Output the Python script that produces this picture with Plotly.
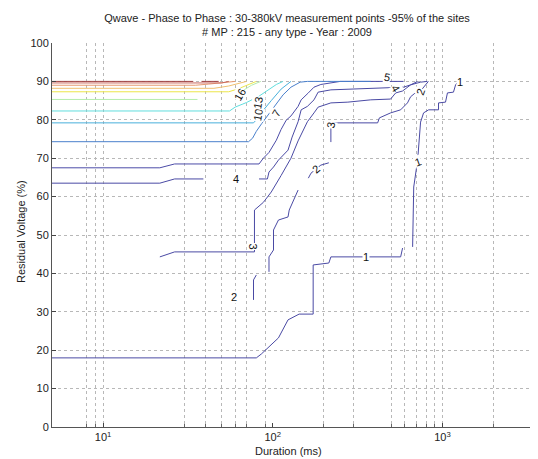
import plotly.graph_objects as go
import math

# ---------------- data (duration in ms, residual voltage in %) ----------------
levels = [1, 2, 3, 4, 5, 7, 10, 13, 16, 19, 22, 25, 28, 31]
level_colors = ["#4a4aa4", "#4a4aa4", "#4a4aa4", "#4a4aa4", "#4c4ca8", "#4a80cc",
                "#48b0dc", "#60dede", "#b4ecaa", "#ece64a", "#f0c070", "#e89a70",
                "#c86a60", "#a04040"]

lvl1_x = [5, 80, 85.6, 94.2, 108, 123, 143, 173, 173, 214, 220, 567, 582, None,
          667, 677, 714, 733, 743, 774, 829, 948, 948, 1042, 1070, 1161, 1195, 1242]
lvl1_y = [18, 18, 19, 20.8, 23.2, 27.9, 29.4, 29.4, 42.2, 42.7, 44.3, 44.3, 46.6, None,
          46.9, 62.5, 69.5, 74.7, 79.4, 81.8, 82.6, 82.6, 84.4, 84.6, 87.0, 87.2, 89.1, 90.0]

lvl2_x = [77, 77, 80, None, 95, 95, 101, 101, 108, 123, 125, 134, 141, None,
          162, 168, 180, 192, 214, None, 220, 220, 230, 415, 425, 495, 567, 622, 649,
          700, 743, 790, 826]
lvl2_y = [33.1, 38.3, 39.6, None, 40.4, 44.3, 46.1, 51.3, 53.9, 54.7, 56.5, 59.6, 61.7, None,
          64.8, 66.1, 67.2, 68.2, 68.8, None, 74.2, 78.6, 79.2, 79.2, 80.5, 81.8, 82.6, 84.4, 86.0,
          87.2, 87.5, 89.0, 90.0]

lvl3_x = [21.6, 26.4, 78, 78, 88, 98, 112, 128, 141, 160, 175, 185, 220, 277, 378, 495,
          530, 582, 649, 714]
lvl3_y = [44.3, 45.6, 45.6, 56.5, 58.5, 61.2, 65.5, 70, 74.5, 79.5, 81.8, 83.3, 84.4, 84.6,
          85.2, 85.4, 87.0, 87.5, 89.1, 90]

lvl4_x = [5, 21.6, 26.4, 39, None, 83, 93, 95, 101, 108, 123, 130, 141, 147, 160, 175, 185,
          220, 393, 590, 649, 743, 815]
lvl4_y = [63.5, 63.5, 64.6, 64.6, None, 64.6, 64.6, 66.4, 67.7, 69.5, 72.1, 75.5, 79.5, 82.6,
          83.5, 85.2, 87.2, 87.8, 88.3, 88.5, 89.1, 89.8, 90]

lvl5_x = [5, 21.6, 26.4, 83, 88, 95, 105, 112, 120, 128, 141, 147, 162, 175, 192, 214, 250, 590]
lvl5_y = [67.5, 67.5, 68.5, 68.5, 70, 71.5, 74.7, 77.5, 79.9, 81, 83.5, 85.2, 87, 88.5, 89.2,
          89.6, 90, 90]

lvl7_x = [5, 72, 76, 80, 86, 95, 105, 115, 128, 145, 160, 378]
lvl7_y = [74.3, 74.3, 75.2, 77, 79, 81.5, 84, 86.5, 88.5, 89.8, 90, 90]

lvl10_x = [5, 77, 82, 88, 98, 112, 128]
lvl10_y = [79.2, 79.2, 80.5, 82.5, 85, 88, 90]

lvl13_x = [5, 55.6, 60, 70, 82, 95, 105, 115]
lvl13_y = [82.3, 82.3, 83.3, 84.5, 86, 88, 89.2, 90]

lvl16_x = [5, 36, None, 58, 66, 75, 85]
lvl16_y = [85.3, 85.3, None, 86.5, 87.5, 89, 90]

lvl19_x = [5, 55, 62, 70, 80]
lvl19_y = [87.3, 87.3, 88, 89, 90]

lvl22_x = [5, 45, 55, 63, 70]
lvl22_y = [88.2, 88.2, 88.8, 89.5, 90]

lvl25_x = [5, 35, 42, 52, 60]
lvl25_y = [89.0, 89.0, 89.3, 89.7, 90]

lvl28_x = [5, 50, 55]
lvl28_y = [89.6, 89.6, 90]

lvl31_x = [5, 34, None, 38, 48]
lvl31_y = [90, 90, None, 90, 90]

# contour labels: text, duration, voltage, rotation
label_text = ["1", "1", "1", "2", "2", "2", "3", "3", "4", "4", "5", "7", "10", "13", "16"]
label_x = [353, 714, 1275, 59.4, 180, 743, 76.9, 220, 61.1, 530, 470, 105, 81.8, 81.8, 63.7]
label_y = [44.3, 69.0, 89.8, 33.9, 67.2, 87.2, 46.9, 78.6, 64.6, 88.3, 91.1, 81.8, 81.3, 84.4, 86.5]
label_rot = [0, -20, 0, 0, -40, -70, 90, -80, 0, 60, 10, -60, -80, -80, -60]

x_tick_vals = [10, 100, 1000]
x_tick_text = ["10<sup>1</sup>", "10<sup>2</sup>", "10<sup>3</sup>"]
x_grid_vals = [8, 9, 10, 30, 40, 50, 60, 70, 90, 200, 300, 500, 600, 700, 800, 900, 1000, 2000]
x_min, x_max = 5, 3656

title_lines = ["Qwave - Phase to Phase : 30-380kV measurement points -95% of the sites",
               "# MP : 215 - any type - Year : 2009"]

# ---------------- figure ----------------
series = [(lvl1_x, lvl1_y), (lvl2_x, lvl2_y), (lvl3_x, lvl3_y), (lvl4_x, lvl4_y),
          (lvl5_x, lvl5_y), (lvl7_x, lvl7_y), (lvl10_x, lvl10_y), (lvl13_x, lvl13_y),
          (lvl16_x, lvl16_y), (lvl19_x, lvl19_y), (lvl22_x, lvl22_y), (lvl25_x, lvl25_y),
          (lvl28_x, lvl28_y), (lvl31_x, lvl31_y)]

FONT = "Liberation Sans, Arial, Helvetica, sans-serif"
fig = go.Figure()
for lev, col, (xs, ys) in zip(levels, level_colors, series):
    fig.add_trace(go.Scatter(x=xs, y=ys, mode="lines", name=str(lev),
                             line=dict(color=col, width=1), connectgaps=False,
                             hoverinfo="skip", showlegend=False))

for t, lx, ly, r in zip(label_text, label_x, label_y, label_rot):
    fig.add_annotation(x=math.log10(lx), y=ly, xref="x", yref="y", text=t,
                       showarrow=False, textangle=r, bgcolor="white", borderpad=0,
                       font=dict(family=FONT, size=11, color="#111"))

# page body has an 8px default margin -> figure is 8px smaller than the window
W, H = 530, 451
L, R, T, B = 44, 0, 35, 32
pw, ph = W - L - R, H - T - B

fig.update_layout(
    width=W, height=H, margin=dict(l=L, r=R, t=T, b=B),
    paper_bgcolor="white", plot_bgcolor="white",
    font=dict(family=FONT, size=11, color="#222"),
    title=dict(text="<br>".join(title_lines), x=279 / W, xanchor="center",
               y=1 - 13.5 / H, yanchor="middle", font=dict(size=11, color="#222")),
    xaxis=dict(type="log", range=[math.log10(x_min), math.log10(x_max)],
               tickmode="array", tickvals=x_tick_vals, ticktext=x_tick_text,
               ticks="inside", ticklen=4, tickcolor="#444",
               showgrid=False, zeroline=False, showline=True, linecolor="#555",
               linewidth=1, mirror=False,
               minor=dict(tickmode="array", tickvals=x_grid_vals, ticks="inside",
                          ticklen=3, tickcolor="#666", showgrid=True,
                          gridcolor="#b8b8b8", griddash="dot", gridwidth=1)),
    yaxis=dict(range=[0, 100], tickmode="linear", tick0=0, dtick=10,
               ticks="inside", ticklen=4, tickcolor="#444",
               showgrid=True, gridcolor="#b8b8b8", griddash="dot", gridwidth=1,
               zeroline=False, showline=True, linecolor="#555", linewidth=1),
)

fig.add_annotation(text="Duration (ms)", xref="paper", yref="paper",
                   x=(280 - L) / pw, y=-(443 - (H - B)) / ph, showarrow=False,
                   xanchor="center", yanchor="middle", font=dict(size=11, color="#222"))
fig.add_annotation(text="Residual Voltage (%)", xref="paper", yref="paper",
                   x=(13 - L) / pw, y=((H - B) - 224) / ph, showarrow=False, textangle=-90,
                   xanchor="center", yanchor="middle", font=dict(size=11, color="#222"))

fig.write_html("out.html")
